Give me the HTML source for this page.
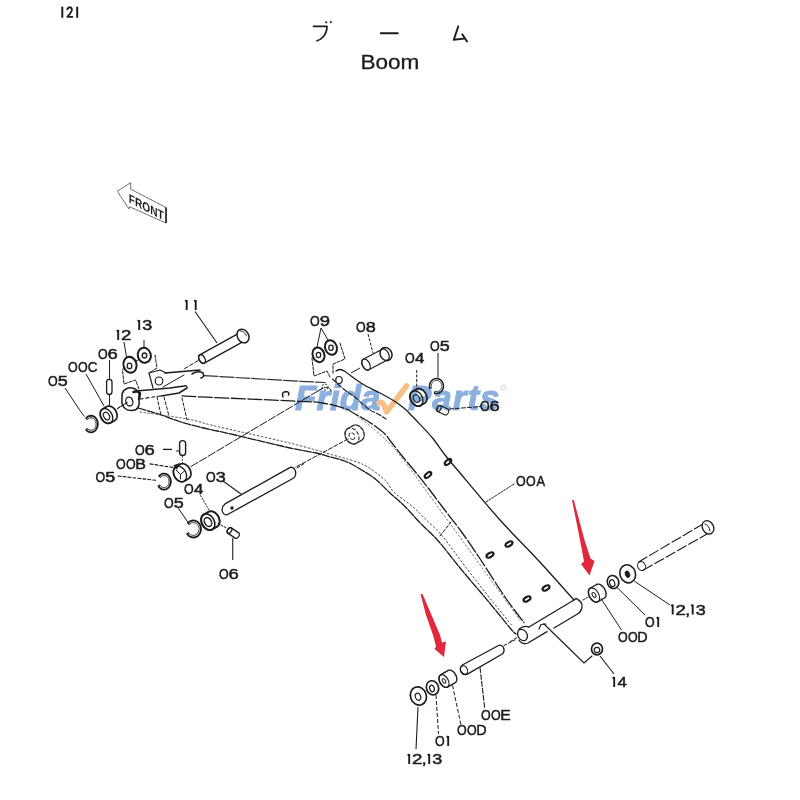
<!DOCTYPE html>
<html><head><meta charset="utf-8"><style>
html,body{margin:0;padding:0;background:#fff;}
svg{display:block;}
text{font-family:"Liberation Sans",sans-serif;fill:#1c1c1c;} .lb{stroke:#1c1c1c;stroke-width:0.5;} svg{will-change:transform;filter:blur(0.3px);}
</style></head><body>
<svg width="800" height="800" viewBox="0 0 800 800">
<rect width="800" height="800" fill="#fff"/>
<g>
<text x="295" y="410" font-size="35" font-weight="bold" font-style="italic" style="fill:#8cb0de;stroke:#8cb0de;stroke-width:1.0">Frida</text>
<path d="M379,403 Q382,401 384,405 L386.5,412 L406.5,386" fill="none" stroke="#f4c088" stroke-width="5.5" stroke-linecap="round" stroke-linejoin="round"/>
<text x="408" y="410" font-size="35" font-weight="bold" font-style="italic" letter-spacing="1" style="fill:#8cb0de;stroke:#8cb0de;stroke-width:1.0">Parts</text>
<circle cx="503.5" cy="387.5" r="2.5" fill="none" stroke="#aac0e0" stroke-width="0.7"/>
</g>
<path d="M62.3,7.5 L62.3,17" fill="none" stroke="#1c1c1c" stroke-width="2.0" stroke-linecap="round" stroke-linejoin="round"/>
<path d="M67.2,9.3 Q68.5,7 70.3,7.3 Q72.3,7.8 71.8,10.5 Q71,13 67.3,16.8 L72.4,16.8" fill="none" stroke="#1c1c1c" stroke-width="1.8" stroke-linecap="round" stroke-linejoin="round"/>
<path d="M77.2,7.5 L77.2,17" fill="none" stroke="#1c1c1c" stroke-width="2.0" stroke-linecap="round" stroke-linejoin="round"/>
<path d="M313.5,26.3 L327,26.3 Q327,33 322.5,37.5 Q320,40 317,40.8" fill="none" stroke="#1c1c1c" stroke-width="1.7" stroke-linecap="round" stroke-linejoin="round"/>
<ellipse cx="326.3" cy="22.3" rx="0.9" ry="0.9" transform="rotate(0 326.3 22.3)" fill="#1c1c1c" stroke="#1c1c1c" stroke-width="0.3"/>
<ellipse cx="330.8" cy="22" rx="0.9" ry="0.9" transform="rotate(0 330.8 22)" fill="#1c1c1c" stroke="#1c1c1c" stroke-width="0.3"/>
<path d="M380.8,33.3 L397.8,33.3" fill="none" stroke="#1c1c1c" stroke-width="2.0" stroke-linecap="round" stroke-linejoin="round"/>
<path d="M458.3,26.3 L453.8,39.8 L464,38.6" fill="none" stroke="#1c1c1c" stroke-width="1.9" stroke-linecap="round" stroke-linejoin="round"/>
<path d="M462.3,34.3 L467,41.5" fill="none" stroke="#1c1c1c" stroke-width="1.9" stroke-linecap="round" stroke-linejoin="round"/>
<text x="360.5" y="68.8" font-size="20.5" stroke="#1c1c1c" stroke-width="0.3" transform="translate(360.5 0) scale(1.1 1) translate(-360.5 0)">Boom</text>
<polygon points="117.3,191.3 130.7,182.7 130.7,189.2 166,207.5 166,223 129.5,206.7 129.1,209.1" fill="none" stroke="#666" stroke-width="1.0" stroke-linejoin="round" stroke-linecap="round" stroke-dasharray="3 1"/>
<line x1="166" y1="207.5" x2="166" y2="223" stroke="#333" stroke-width="1.8"/>
<text x="0" y="0" font-size="12.5" font-weight="bold" transform="translate(128.8 202.3) skewY(27.5) scale(0.81 1)">FRONT</text>
<path class="l1" d="M186.70,300.00 L186.70,310.00 M186.70,300.20 L185.20,301.40" stroke="#1c1c1c" stroke-width="1.9" fill="none"/>
<path class="l1" d="M195.70,300.00 L195.70,310.00 M195.70,300.20 L194.20,301.40" stroke="#1c1c1c" stroke-width="1.9" fill="none"/>
<path class="l1" d="M139.20,320.00 L139.20,330.00 M139.20,320.20 L137.70,321.40" stroke="#1c1c1c" stroke-width="1.9" fill="none"/>
<text x="0" y="0" font-size="14.5" class="lb" transform="translate(142.32 330) scale(1.236 1)">3</text>
<path class="l1" d="M118.20,330.00 L118.20,340.00 M118.20,330.20 L116.70,331.40" stroke="#1c1c1c" stroke-width="1.9" fill="none"/>
<text x="0" y="0" font-size="14.5" class="lb" transform="translate(121.07 340) scale(1.286 1)">2</text>
<text x="0" y="0" font-size="14.5" class="lb" transform="translate(97.91 358.5) scale(0.858 1)">O</text>
<text x="0" y="0" font-size="14.5" class="lb" transform="translate(107.57 358.5) scale(1.270 1)">6</text>
<text x="0" y="0" font-size="14.5" class="lb" transform="translate(67.91 372) scale(0.858 1)">O</text>
<text x="0" y="0" font-size="14.5" class="lb" transform="translate(77.91 372) scale(0.858 1)">O</text>
<text x="0" y="0" font-size="14.5" class="lb" transform="translate(87.82 372) scale(0.926 1)">C</text>
<text x="0" y="0" font-size="14.5" class="lb" transform="translate(47.91 386) scale(0.858 1)">O</text>
<text x="0" y="0" font-size="14.5" class="lb" transform="translate(57.78 386) scale(1.236 1)">5</text>
<text x="0" y="0" font-size="14.5" class="lb" transform="translate(309.91 326) scale(0.858 1)">O</text>
<text x="0" y="0" font-size="14.5" class="lb" transform="translate(319.63 326) scale(1.270 1)">9</text>
<text x="0" y="0" font-size="14.5" class="lb" transform="translate(355.91 332) scale(0.858 1)">O</text>
<text x="0" y="0" font-size="14.5" class="lb" transform="translate(365.71 332) scale(1.249 1)">8</text>
<text x="0" y="0" font-size="14.5" class="lb" transform="translate(404.91 362.5) scale(0.858 1)">O</text>
<text x="0" y="0" font-size="14.5" class="lb" transform="translate(415.11 362.5) scale(1.162 1)">4</text>
<text x="0" y="0" font-size="14.5" class="lb" transform="translate(429.91 350.5) scale(0.858 1)">O</text>
<text x="0" y="0" font-size="14.5" class="lb" transform="translate(439.78 350.5) scale(1.236 1)">5</text>
<text x="0" y="0" font-size="14.5" class="lb" transform="translate(479.91 410.5) scale(0.858 1)">O</text>
<text x="0" y="0" font-size="14.5" class="lb" transform="translate(489.57 410.5) scale(1.270 1)">6</text>
<text x="0" y="0" font-size="14.5" class="lb" transform="translate(134.91 455) scale(0.858 1)">O</text>
<text x="0" y="0" font-size="14.5" class="lb" transform="translate(144.57 455) scale(1.270 1)">6</text>
<text x="0" y="0" font-size="14.5" class="lb" transform="translate(115.91 469) scale(0.858 1)">O</text>
<text x="0" y="0" font-size="14.5" class="lb" transform="translate(125.91 469) scale(0.858 1)">O</text>
<text x="0" y="0" font-size="14.5" class="lb" transform="translate(135.19 469) scale(1.102 1)">B</text>
<text x="0" y="0" font-size="14.5" class="lb" transform="translate(95.41 482) scale(0.858 1)">O</text>
<text x="0" y="0" font-size="14.5" class="lb" transform="translate(105.28 482) scale(1.236 1)">5</text>
<text x="0" y="0" font-size="14.5" class="lb" transform="translate(205.91 482) scale(0.858 1)">O</text>
<text x="0" y="0" font-size="14.5" class="lb" transform="translate(215.82 482) scale(1.236 1)">3</text>
<text x="0" y="0" font-size="14.5" class="lb" transform="translate(183.91 494) scale(0.858 1)">O</text>
<text x="0" y="0" font-size="14.5" class="lb" transform="translate(194.11 494) scale(1.162 1)">4</text>
<text x="0" y="0" font-size="14.5" class="lb" transform="translate(163.91 508) scale(0.858 1)">O</text>
<text x="0" y="0" font-size="14.5" class="lb" transform="translate(173.78 508) scale(1.236 1)">5</text>
<text x="0" y="0" font-size="14.5" class="lb" transform="translate(218.91 579) scale(0.858 1)">O</text>
<text x="0" y="0" font-size="14.5" class="lb" transform="translate(228.57 579) scale(1.270 1)">6</text>
<text x="0" y="0" font-size="14.5" class="lb" transform="translate(515.91 486) scale(0.858 1)">O</text>
<text x="0" y="0" font-size="14.5" class="lb" transform="translate(525.91 486) scale(0.858 1)">O</text>
<text x="0" y="0" font-size="14.5" class="lb" transform="translate(536.47 486) scale(0.884 1)">A</text>
<path class="l1" d="M672.70,604.50 L672.70,614.50 M672.70,604.70 L671.20,605.90" stroke="#1c1c1c" stroke-width="1.9" fill="none"/>
<text x="0" y="0" font-size="14.5" class="lb" transform="translate(675.57 614.5) scale(1.286 1)">2</text>
<text x="0" y="0" font-size="14.5" class="lb" transform="translate(685.23 614.5) scale(1.200 1)">,</text>
<path class="l1" d="M692.70,604.50 L692.70,614.50 M692.70,604.70 L691.20,605.90" stroke="#1c1c1c" stroke-width="1.9" fill="none"/>
<text x="0" y="0" font-size="14.5" class="lb" transform="translate(695.82 614.5) scale(1.236 1)">3</text>
<text x="0" y="0" font-size="14.5" class="lb" transform="translate(644.91 627) scale(0.858 1)">O</text>
<path class="l1" d="M658.20,617.00 L658.20,627.00 M658.20,617.20 L656.70,618.40" stroke="#1c1c1c" stroke-width="1.9" fill="none"/>
<text x="0" y="0" font-size="14.5" class="lb" transform="translate(617.91 642) scale(0.858 1)">O</text>
<text x="0" y="0" font-size="14.5" class="lb" transform="translate(627.91 642) scale(0.858 1)">O</text>
<text x="0" y="0" font-size="14.5" class="lb" transform="translate(637.32 642) scale(0.990 1)">D</text>
<path class="l1" d="M614.20,677.00 L614.20,687.00 M614.20,677.20 L612.70,678.40" stroke="#1c1c1c" stroke-width="1.9" fill="none"/>
<text x="0" y="0" font-size="14.5" class="lb" transform="translate(617.61 687) scale(1.162 1)">4</text>
<text x="0" y="0" font-size="14.5" class="lb" transform="translate(480.91 720) scale(0.858 1)">O</text>
<text x="0" y="0" font-size="14.5" class="lb" transform="translate(490.91 720) scale(0.858 1)">O</text>
<text x="0" y="0" font-size="14.5" class="lb" transform="translate(500.21 720) scale(1.081 1)">E</text>
<text x="0" y="0" font-size="14.5" class="lb" transform="translate(456.91 735) scale(0.858 1)">O</text>
<text x="0" y="0" font-size="14.5" class="lb" transform="translate(466.91 735) scale(0.858 1)">O</text>
<text x="0" y="0" font-size="14.5" class="lb" transform="translate(476.32 735) scale(0.990 1)">D</text>
<text x="0" y="0" font-size="14.5" class="lb" transform="translate(434.91 746) scale(0.858 1)">O</text>
<path class="l1" d="M448.20,736.00 L448.20,746.00 M448.20,736.20 L446.70,737.40" stroke="#1c1c1c" stroke-width="1.9" fill="none"/>
<path class="l1" d="M409.20,754.00 L409.20,764.00 M409.20,754.20 L407.70,755.40" stroke="#1c1c1c" stroke-width="1.9" fill="none"/>
<text x="0" y="0" font-size="14.5" class="lb" transform="translate(412.07 764) scale(1.286 1)">2</text>
<text x="0" y="0" font-size="14.5" class="lb" transform="translate(421.73 764) scale(1.200 1)">,</text>
<path class="l1" d="M429.20,754.00 L429.20,764.00 M429.20,754.20 L427.70,755.40" stroke="#1c1c1c" stroke-width="1.9" fill="none"/>
<text x="0" y="0" font-size="14.5" class="lb" transform="translate(432.32 764) scale(1.236 1)">3</text>
<path d="M336,371 C336.67,370.75 338.5,369.42 340,369.5 C341.5,369.58 342.5,369.92 345,371.5 C347.5,373.08 351.67,376.67 355,379 C358.33,381.33 360.83,383.17 365,385.5 C369.17,387.83 375,390.33 380,393 C385,395.67 390.83,398.83 395,401.5 C399.17,404.17 402.08,406.5 405,409 C407.92,411.5 410,413.93 412.5,416.5 C415,419.07 416.67,420.82 420,424.4 C423.33,427.98 428.33,432.9 432.5,438 C436.67,443.1 440.83,449.67 445,455 C449.17,460.33 448.33,459.17 457.5,470 C466.67,480.83 486.58,505 500,520 C513.42,535 525.67,546.67 538,560 C550.33,573.33 568,593.33 574,600" fill="none" stroke="#1c1c1c" stroke-width="1.3" stroke-linecap="round" stroke-linejoin="round"/>
<path d="M182,395.8 C185,395.98 180.33,395.98 200,396.9 C219.67,397.82 279.58,400.28 300,401.3 C320.42,402.32 315,401.8 322.5,403 C330,404.2 339.58,406.67 345,408.5 C350.42,410.33 351.67,412.17 355,414 C358.33,415.83 361.67,417.5 365,419.5 C368.33,421.5 371.67,423.58 375,426 C378.33,428.42 382.5,431.58 385,434 C387.5,436.42 387.08,436.75 390,440.5 C392.92,444.25 398.33,451.33 402.5,456.5 C406.67,461.67 410.62,466.12 415,471.5 C419.38,476.88 423.79,482.33 428.75,488.75 C433.71,495.17 439.21,502.71 444.75,510 C450.29,517.29 456.12,524.38 462,532.5 C467.88,540.62 472.67,547.75 480,558.75 C487.33,569.75 498.67,587.88 506,598.5 C513.33,609.12 521,618.5 524,622.5" fill="none" stroke="#1c1c1c" stroke-width="1.3" stroke-linecap="round" stroke-linejoin="round" stroke-dasharray="14 2.5"/>
<path d="M352,412 C355.83,415 368.33,424.33 375,430 C381.67,435.67 387,440.67 392,446 C397,451.33 398.67,453.67 405,462 C411.33,470.33 410.83,469.67 430,496 C449.17,522.33 505,599.33 520,620" fill="none" stroke="#666" stroke-width="0.9" stroke-linecap="round" stroke-linejoin="round" stroke-dasharray="1.5 2.5"/>
<path d="M332.5,379 C333.75,380.17 337.5,383.83 340,386 C342.5,388.17 345,390.17 347.5,392 C350,393.83 352.5,395 355,397 C357.5,399 360,401.83 362.5,404 C365,406.17 367.42,408.33 370,410 C372.58,411.67 375.33,412.5 378,414 C380.67,415.5 384.67,418.17 386,419" fill="none" stroke="#1c1c1c" stroke-width="1.1" stroke-linecap="round" stroke-linejoin="round" stroke-dasharray="5 2"/>
<path d="M138,408 C141.67,409.08 153,412.21 160,414.5 C167,416.79 172.92,419.54 180,421.75 C187.08,423.96 196.25,426.21 202.5,427.75 C208.75,429.29 211.88,429.75 217.5,431 C223.12,432.25 224.17,432.42 236.25,435.25 C248.33,438.08 276.71,445.04 290,448 C303.29,450.96 309.5,451.57 316,453 C322.5,454.43 324,455.18 329,456.6 C334,458.02 340.83,459.43 346,461.5 C351.17,463.57 355.17,466.12 360,469 C364.83,471.88 370,474.75 375,478.75 C380,482.75 385,488.38 390,493 C395,497.62 400,501.54 405,506.5 C410,511.46 414.38,516.92 420,522.75 C425.62,528.58 432,533.88 438.75,541.5 C445.5,549.12 451.92,558.12 460.5,568.5 C469.08,578.88 481.92,593.75 490.25,603.75 C498.58,613.75 506.21,623.46 510.5,628.5 C514.79,633.54 515.08,633.08 516,634" fill="none" stroke="#1c1c1c" stroke-width="1.3" stroke-linecap="round" stroke-linejoin="round" stroke-dasharray="8 1.5"/>
<path d="M140,412 C147.67,413.12 174.33,416.62 186,418.75 C197.67,420.88 202.25,422.88 210,424.75 C217.75,426.62 218.92,426.88 232.5,430 C246.08,433.12 274.92,439.38 291.5,443.5 C308.08,447.62 320.08,451.25 332,454.75 C343.92,458.25 354.21,460.29 363,464.5 C371.79,468.71 379.62,475.42 384.75,480 C389.88,484.58 389.12,487.58 393.75,492 C398.38,496.42 407.5,502.25 412.5,506.5 C417.5,510.75 418.75,512.54 423.75,517.5 C428.75,522.46 435.62,528.12 442.5,536.25 C449.38,544.38 456.67,555.38 465,566.25 C473.33,577.12 484.67,591.62 492.5,601.5 C500.33,611.38 508.75,621.5 512,625.5" fill="none" stroke="#444" stroke-width="1.0" stroke-linecap="round" stroke-linejoin="round" stroke-dasharray="1.5 2.5"/>
<path d="M165,373 L200,370" fill="none" stroke="#1c1c1c" stroke-width="1.6" stroke-linecap="round" stroke-linejoin="round"/>
<path d="M203.8,375.6 L300,381.3 L325,382.5" fill="none" stroke="#333" stroke-width="1.2" stroke-linecap="round" stroke-linejoin="round" stroke-dasharray="14 2"/>
<path d="M140,399 L160,396" fill="none" stroke="#1c1c1c" stroke-width="1.2" stroke-linecap="round" stroke-linejoin="round" stroke-dasharray="3 3"/>
<path d="M126,389 Q131,386.5 136,389.5 Q141,393 139,400 Q140,407 136,409.5 Q130,412 125,408.5 Q121,405 122,398 Q121.5,391 126,389 Z" fill="#fff" stroke="#1c1c1c" stroke-width="1.5" stroke-linecap="round" stroke-linejoin="round"/>
<ellipse cx="129.3" cy="401.5" rx="3.5" ry="4.5" transform="rotate(-15 129.3 401.5)" fill="none" stroke="#1c1c1c" stroke-width="1.3"/>
<path d="M133.5,392 Q138,390.5 140,393 L139,399" fill="none" stroke="#1c1c1c" stroke-width="2.4" stroke-linecap="round" stroke-linejoin="round"/>
<path d="M117,409 L127,402.5" fill="none" stroke="#1c1c1c" stroke-width="1.0" stroke-linecap="round" stroke-linejoin="round" stroke-dasharray="3 1.5"/>
<path d="M136,391 L153,389.5 L170,388 L184,386 Q187,385 187,388 L179,393 L161,396" fill="none" stroke="#1c1c1c" stroke-width="1.5" stroke-linecap="round" stroke-linejoin="round"/>
<path d="M157,397 L161,415" fill="none" stroke="#1c1c1c" stroke-width="1.0" stroke-linecap="round" stroke-linejoin="round" stroke-dasharray="3 2"/>
<path d="M164,397 L169,416" fill="none" stroke="#1c1c1c" stroke-width="1.0" stroke-linecap="round" stroke-linejoin="round" stroke-dasharray="3 2"/>
<path d="M182,398 L187,420" fill="none" stroke="#1c1c1c" stroke-width="1.0" stroke-linecap="round" stroke-linejoin="round" stroke-dasharray="3 2"/>
<path d="M149,373 L153,388" fill="none" stroke="#1c1c1c" stroke-width="1.2" stroke-linecap="round" stroke-linejoin="round"/>
<path d="M149,373 L160,370 L166,373" fill="none" stroke="#1c1c1c" stroke-width="1.2" stroke-linecap="round" stroke-linejoin="round"/>
<ellipse cx="159" cy="381" rx="3.8" ry="4" transform="rotate(0 159 381)" fill="none" stroke="#1c1c1c" stroke-width="1.2"/>
<path d="M192,374 Q198,370 203,373 Q205,377 201,378" fill="none" stroke="#1c1c1c" stroke-width="1.6" stroke-linecap="round" stroke-linejoin="round"/>
<polyline points="124,367 122.5,370 124,384 135.5,380 139,389" fill="none" stroke="#1c1c1c" stroke-width="1.0" stroke-linejoin="round" stroke-linecap="round" stroke-dasharray="3 1.5"/>
<polyline points="155,355 157,368 149.5,372.5" fill="none" stroke="#1c1c1c" stroke-width="1.0" stroke-linejoin="round" stroke-linecap="round" stroke-dasharray="3 1.5"/>
<polyline points="312,358 314,376 327,371 330,377" fill="none" stroke="#1c1c1c" stroke-width="1.0" stroke-linejoin="round" stroke-linecap="round" stroke-dasharray="3 1.5"/>
<polyline points="340,343 345,359 333,364 333,374" fill="none" stroke="#1c1c1c" stroke-width="1.0" stroke-linejoin="round" stroke-linecap="round" stroke-dasharray="3 1.5"/>
<ellipse cx="339" cy="380" rx="3.2" ry="3.5" transform="rotate(0 339 380)" fill="none" stroke="#1c1c1c" stroke-width="1.2"/>
<ellipse cx="325" cy="387" rx="3" ry="3" transform="rotate(0 325 387)" fill="none" stroke="#1c1c1c" stroke-width="1.0" stroke-dasharray="2 1.5"/>
<path d="M318,391 L323,388 Q330,386 331,391" fill="none" stroke="#1c1c1c" stroke-width="1.0" stroke-linecap="round" stroke-linejoin="round" stroke-dasharray="2 1.5"/>
<polygon points="361.45,440.36 362.26,439.77 362.94,439.02 363.49,438.11 363.88,437.08 364.11,435.95 364.16,434.75 364.04,433.5 363.76,432.24 363.31,431 362.72,429.81 361.98,428.7 361.13,427.69 360.19,426.82 359.16,426.09 358.09,425.54 357,425.17 355.92,424.99 354.86,425.01 353.86,425.23 352.95,425.64 347.75,428.64 346.94,429.23 346.25,429.98 345.71,430.89 345.32,431.92 345.09,433.05 345.04,434.25 345.15,435.5 345.44,436.76 345.88,438 346.48,439.19 347.21,440.3 348.06,441.31 349.01,442.18 350.03,442.91 351.1,443.46 352.19,443.83 353.28,444.01 354.34,443.99 355.33,443.77 356.25,443.36" fill="#fff" stroke="#333" stroke-width="1.4" stroke-linejoin="round" stroke-linecap="round" stroke-dasharray="4 1.5"/>
<ellipse cx="352" cy="436" rx="8.5" ry="6.38" transform="rotate(60 352 436)" fill="none" stroke="#333" stroke-width="1.1199999999999999" stroke-dasharray="4 1.5"/>
<ellipse cx="352" cy="436" rx="3.57" ry="2.68" transform="rotate(60 352 436)" fill="none" stroke="#333" stroke-width="0.9799999999999999" stroke-dasharray="4 1.5"/>
<path d="M348,439 L295,467.5" fill="none" stroke="#1c1c1c" stroke-width="1.0" stroke-linecap="round" stroke-linejoin="round" stroke-dasharray="4 2"/>
<path d="M191,466.5 L323,388" fill="none" stroke="#1c1c1c" stroke-width="1.0" stroke-linecap="round" stroke-linejoin="round" stroke-dasharray="8 2"/>
<path d="M440,536 L451,522" fill="none" stroke="#1c1c1c" stroke-width="1.0" stroke-linecap="round" stroke-linejoin="round" stroke-dasharray="3 2"/>
<ellipse cx="448" cy="462" rx="3.8" ry="2" transform="rotate(-40 448 462)" fill="none" stroke="#1c1c1c" stroke-width="2.2"/>
<ellipse cx="428" cy="475" rx="3.8" ry="2" transform="rotate(-40 428 475)" fill="none" stroke="#1c1c1c" stroke-width="2.2"/>
<ellipse cx="509" cy="544" rx="3.8" ry="2" transform="rotate(-30 509 544)" fill="none" stroke="#1c1c1c" stroke-width="2.2"/>
<ellipse cx="490" cy="555" rx="3.8" ry="2" transform="rotate(-30 490 555)" fill="none" stroke="#1c1c1c" stroke-width="2.2"/>
<ellipse cx="546" cy="588" rx="3.8" ry="2" transform="rotate(-30 546 588)" fill="none" stroke="#1c1c1c" stroke-width="2.2"/>
<ellipse cx="527" cy="599" rx="3.8" ry="2" transform="rotate(-30 527 599)" fill="none" stroke="#1c1c1c" stroke-width="2.2"/>
<path d="M529,627 L574,600 L576,598.4" fill="none" stroke="#1c1c1c" stroke-width="1.3" stroke-linecap="round" stroke-linejoin="round"/>
<path d="M576,598.4 Q583,602 582,607 Q581,612 577.5,614 L554,628" fill="none" stroke="#1c1c1c" stroke-width="1.3" stroke-linecap="round" stroke-linejoin="round"/>
<path d="M547,631.6 L528,643 Q522,645 519,640" fill="none" stroke="#1c1c1c" stroke-width="1.3" stroke-linecap="round" stroke-linejoin="round"/>
<ellipse cx="522.5" cy="635" rx="4.5" ry="6" transform="rotate(-30 522.5 635)" fill="none" stroke="#1c1c1c" stroke-width="1.3"/>
<path d="M519,629 Q524,625 529,627" fill="none" stroke="#1c1c1c" stroke-width="1.3" stroke-linecap="round" stroke-linejoin="round"/>
<path d="M539,629 L541,624.5 L546,624" fill="none" stroke="#1c1c1c" stroke-width="1.2" stroke-linecap="round" stroke-linejoin="round"/>
<path d="M543.75,623.75 L584,663 L592,656" fill="none" stroke="#1c1c1c" stroke-width="1.1" stroke-linecap="round" stroke-linejoin="round"/>
<path d="M510,641.75 L518,637" fill="none" stroke="#1c1c1c" stroke-width="1.0" stroke-linecap="round" stroke-linejoin="round" stroke-dasharray="3 2"/>
<path d="M486,502 L514,484" fill="none" stroke="#1c1c1c" stroke-width="1.0" stroke-linecap="round" stroke-linejoin="round" stroke-dasharray="2 1.5"/>
<polygon points="242.27,342.11 242.71,341.77 243.04,341.28 243.26,340.66 243.35,339.94 243.32,339.15 243.15,338.31 242.86,337.46 242.47,336.64 241.98,335.86 241.41,335.17 240.79,334.58 240.14,334.13 239.48,333.82 238.84,333.68 238.25,333.7 237.73,333.89 199.73,354.89 199.29,355.23 198.96,355.72 198.74,356.34 198.65,357.06 198.68,357.85 198.85,358.69 199.14,359.54 199.53,360.36 200.02,361.14 200.59,361.83 201.21,362.42 201.86,362.87 202.52,363.18 203.16,363.32 203.75,363.3 204.27,363.11" fill="#fff" stroke="#1c1c1c" stroke-width="1.3" stroke-linejoin="round" stroke-linecap="round"/>
<ellipse cx="202" cy="359" rx="4.7" ry="2.82" transform="rotate(61.07 202 359)" fill="none" stroke="#1c1c1c" stroke-width="1.3"/>
<ellipse cx="243" cy="336" rx="5.6" ry="7.2" transform="rotate(-30 243 336)" fill="#fff" stroke="#1c1c1c" stroke-width="1.5"/>
<path d="M240.5,331 Q245,331 246.5,336" fill="none" stroke="#1c1c1c" stroke-width="0.9" stroke-linecap="round" stroke-linejoin="round"/>
<line x1="195" y1="311.5" x2="217" y2="343" stroke="#1c1c1c" stroke-width="1.1"/>
<path d="M198.3,360.5 L184,369" fill="none" stroke="#1c1c1c" stroke-width="1.0" stroke-linecap="round" stroke-linejoin="round" stroke-dasharray="4 2"/>
<path d="M184,375 L163,387" fill="none" stroke="#1c1c1c" stroke-width="1.0" stroke-linecap="round" stroke-linejoin="round"/>
<path d="M283,397 Q281,392 286,391.5 Q290,392 288.5,395" fill="none" stroke="#1c1c1c" stroke-width="1.5" stroke-linecap="round" stroke-linejoin="round"/>
<path d="M289.3,467.9 L225,503.9 Q221,507 222.5,512 Q225,516.5 228.5,514 L293.75,478 Q297,475 295,470 Q292.5,466 289.3,467.9 Z" fill="#fff" stroke="#1c1c1c" stroke-width="1.3" stroke-linecap="round" stroke-linejoin="round"/>
<ellipse cx="232" cy="508" rx="1" ry="1" transform="rotate(0 232 508)" fill="none" stroke="#1c1c1c" stroke-width="1.4"/>
<line x1="223" y1="481" x2="241" y2="494" stroke="#1c1c1c" stroke-width="1.1"/>
<path d="M297,468 L305,463" fill="none" stroke="#1c1c1c" stroke-width="1.0" stroke-linecap="round" stroke-linejoin="round" stroke-dasharray="3 2"/>
<polygon points="387.79,359.81 388.36,359.38 388.8,358.76 389.09,357.98 389.23,357.07 389.2,356.06 389.01,354.98 388.67,353.89 388.19,352.82 387.58,351.82 386.87,350.92 386.1,350.16 385.28,349.56 384.45,349.15 383.64,348.95 382.88,348.97 382.21,349.19 363.21,359.19 362.64,359.62 362.2,360.24 361.91,361.02 361.77,361.93 361.8,362.94 361.99,364.02 362.33,365.11 362.81,366.18 363.42,367.18 364.13,368.08 364.9,368.84 365.72,369.44 366.55,369.85 367.36,370.05 368.12,370.03 368.79,369.81" fill="#fff" stroke="#1c1c1c" stroke-width="1.2" stroke-linejoin="round" stroke-linecap="round"/>
<ellipse cx="366" cy="364.5" rx="6" ry="3.6" transform="rotate(62.24 366 364.5)" fill="none" stroke="#1c1c1c" stroke-width="1.2"/>
<ellipse cx="386" cy="354" rx="5.8" ry="6.8" transform="rotate(-28 386 354)" fill="none" stroke="#1c1c1c" stroke-width="1.5"/>
<line x1="368" y1="334" x2="373" y2="353" stroke="#1c1c1c" stroke-width="1.0" stroke-dasharray="3 1.5"/>
<line x1="360" y1="368" x2="351" y2="373" stroke="#1c1c1c" stroke-width="1.0"/>
<path d="M703,524 L639,561.7" fill="none" stroke="#1c1c1c" stroke-width="1.1" stroke-linecap="round" stroke-linejoin="round" stroke-dasharray="10 3"/>
<path d="M708.75,533 L643.5,570" fill="none" stroke="#1c1c1c" stroke-width="1.1" stroke-linecap="round" stroke-linejoin="round" stroke-dasharray="10 3"/>
<ellipse cx="641.5" cy="566" rx="3.8" ry="4.6" transform="rotate(-30 641.5 566)" fill="none" stroke="#1c1c1c" stroke-width="1.0"/>
<ellipse cx="708" cy="527.3" rx="5.5" ry="7" transform="rotate(-30 708 527.3)" fill="#fff" stroke="#1c1c1c" stroke-width="1.3"/>
<path d="M705,524 Q709,525 710,531" fill="none" stroke="#1c1c1c" stroke-width="1.0" stroke-linecap="round" stroke-linejoin="round"/>
<path d="M498.5,645.5 L462.75,664.75 Q459,668 461,672 Q463.5,675.5 467,674.4 L502.7,653.75 Q505,651 503.5,647.5 Q501.5,644 498.5,645.5 Z" fill="#fff" stroke="#1c1c1c" stroke-width="1.3" stroke-linecap="round" stroke-linejoin="round"/>
<ellipse cx="464" cy="670" rx="3.3" ry="4.5" transform="rotate(-30 464 670)" fill="none" stroke="#1c1c1c" stroke-width="1.1"/>
<path d="M504,645.5 L515,640" fill="none" stroke="#1c1c1c" stroke-width="1.0" stroke-linecap="round" stroke-linejoin="round" stroke-dasharray="3 2"/>
<path d="M480,667.5 L484.75,708.75" fill="none" stroke="#1c1c1c" stroke-width="1.1" stroke-linecap="round" stroke-linejoin="round" stroke-dasharray="5 2"/>
<polyline points="86.19,418.13 87.22,417.1 88.4,416.33 89.67,415.86 91,415.7 92.33,415.86 93.6,416.33 94.78,417.1 95.81,418.13 96.65,419.39 97.28,420.82 97.67,422.38 97.8,424 97.67,425.62 97.28,427.18 96.65,428.61 95.81,429.87 94.78,430.9 93.6,431.67 92.33,432.14 91,432.3 89.67,432.14 88.4,431.67 87.22,430.9 86.19,429.87" fill="none" stroke="#1c1c1c" stroke-width="1.8" stroke-linejoin="round" stroke-linecap="round"/>
<polyline points="87.39,419.6 88.17,418.82 89.05,418.25 90.01,417.89 91,417.77 91.99,417.89 92.95,418.25 93.83,418.82 94.61,419.6 95.24,420.54 95.71,421.62 96,422.79 96.1,424 96,425.21 95.71,426.38 95.24,427.46 94.61,428.4 93.83,429.18 92.95,429.75 91.99,430.11 91,430.23 90.01,430.11 89.05,429.75 88.17,429.18 87.39,428.4" fill="none" stroke="#1c1c1c" stroke-width="0.9" stroke-linejoin="round" stroke-linecap="round"/>
<line x1="86.19" y1="418.13" x2="87.39" y2="419.6" stroke="#1c1c1c" stroke-width="1.26"/>
<line x1="86.19" y1="429.87" x2="87.39" y2="428.4" stroke="#1c1c1c" stroke-width="1.26"/>
<line x1="80" y1="410.6" x2="84.5" y2="416.5" stroke="#1c1c1c" stroke-width="1.0"/>
<line x1="65" y1="388" x2="80" y2="410.6" stroke="#1c1c1c" stroke-width="1.0"/>
<polygon points="114.83,420.43 115.54,419.9 116.13,419.22 116.6,418.4 116.92,417.46 117.09,416.42 117.1,415.31 116.97,414.15 116.68,412.98 116.25,411.82 115.68,410.7 114.99,409.65 114.21,408.7 113.34,407.86 112.4,407.16 111.43,406.62 110.44,406.25 109.47,406.06 108.52,406.05 107.64,406.22 106.83,406.57 102.5,409.07 101.79,409.6 101.2,410.28 100.73,411.1 100.41,412.04 100.24,413.08 100.23,414.19 100.36,415.35 100.65,416.52 101.08,417.68 101.65,418.8 102.34,419.85 103.12,420.8 103.99,421.64 104.93,422.34 105.9,422.88 106.89,423.25 107.86,423.44 108.81,423.45 109.69,423.28 110.5,422.93" fill="#fff" stroke="#1c1c1c" stroke-width="1.7" stroke-linejoin="round" stroke-linecap="round"/>
<ellipse cx="106.5" cy="416" rx="8" ry="5.6" transform="rotate(60 106.5 416)" fill="none" stroke="#1c1c1c" stroke-width="1.36"/>
<ellipse cx="106.5" cy="416" rx="4" ry="2.8" transform="rotate(60 106.5 416)" fill="none" stroke="#1c1c1c" stroke-width="1.19"/>
<line x1="86" y1="374" x2="104" y2="406" stroke="#1c1c1c" stroke-width="1.0"/>
<line x1="109.5" y1="360" x2="109.5" y2="379" stroke="#1c1c1c" stroke-width="1.0"/>
<rect x="106.6" y="379.3" width="5.4" height="15.2" rx="2.7" fill="#fff" stroke="#1c1c1c" stroke-width="1.3"/>
<line x1="109.5" y1="394.5" x2="109.5" y2="405" stroke="#1c1c1c" stroke-width="1.0"/>
<path d="M118,408 L127.5,402.5" fill="none" stroke="#1c1c1c" stroke-width="1.0" stroke-linecap="round" stroke-linejoin="round" stroke-dasharray="2.5 1.5"/>
<line x1="124" y1="342" x2="126.5" y2="357" stroke="#1c1c1c" stroke-width="1.0"/>
<ellipse cx="130" cy="364.8" rx="6.5" ry="8" transform="rotate(-15 130 364.8)" fill="#fff" stroke="#1c1c1c" stroke-width="2.0"/>
<ellipse cx="129.5" cy="366" rx="2.3" ry="2.8" transform="rotate(0 129.5 366)" fill="none" stroke="#1c1c1c" stroke-width="1.3"/>
<line x1="144" y1="340" x2="144" y2="347.5" stroke="#1c1c1c" stroke-width="1.0"/>
<ellipse cx="144.3" cy="355.3" rx="6.5" ry="7.5" transform="rotate(-15 144.3 355.3)" fill="#fff" stroke="#1c1c1c" stroke-width="2.0"/>
<ellipse cx="144.5" cy="355.5" rx="2.3" ry="2.5" transform="rotate(0 144.5 355.5)" fill="none" stroke="#1c1c1c" stroke-width="1.3"/>
<line x1="136" y1="361" x2="140" y2="359" stroke="#1c1c1c" stroke-width="1.0"/>
<line x1="321" y1="328" x2="317" y2="347" stroke="#1c1c1c" stroke-width="1.0"/>
<line x1="321" y1="328" x2="328" y2="340" stroke="#1c1c1c" stroke-width="1.0"/>
<ellipse cx="318.5" cy="354.8" rx="5.8" ry="7.5" transform="rotate(-20 318.5 354.8)" fill="#fff" stroke="#1c1c1c" stroke-width="2.0"/>
<ellipse cx="318.5" cy="355" rx="2.2" ry="2.6" transform="rotate(0 318.5 355)" fill="none" stroke="#1c1c1c" stroke-width="1.3"/>
<ellipse cx="331" cy="347.5" rx="5.8" ry="7.5" transform="rotate(-20 331 347.5)" fill="#fff" stroke="#1c1c1c" stroke-width="2.0"/>
<ellipse cx="331" cy="347.7" rx="2.2" ry="2.6" transform="rotate(0 331 347.7)" fill="none" stroke="#1c1c1c" stroke-width="1.3"/>
<line x1="416.7" y1="370" x2="416.7" y2="387" stroke="#1c1c1c" stroke-width="1.0" stroke-dasharray="3 1.5"/>
<polygon points="424.5,403.35 425.25,402.8 425.88,402.09 426.37,401.24 426.72,400.26 426.91,399.18 426.94,398.04 426.81,396.84 426.53,395.64 426.09,394.45 425.51,393.3 424.81,392.22 423.99,391.25 423.09,390.4 422.12,389.69 421.11,389.14 420.09,388.77 419.07,388.58 418.08,388.58 417.15,388.77 416.3,389.15 412.4,391.4 411.65,391.95 411.02,392.66 410.53,393.51 410.18,394.49 409.99,395.57 409.95,396.71 410.08,397.91 410.37,399.11 410.81,400.3 411.39,401.45 412.09,402.53 412.9,403.5 413.81,404.35 414.77,405.06 415.78,405.61 416.81,405.98 417.83,406.17 418.82,406.17 419.75,405.98 420.6,405.6" fill="none" stroke="#1c1c1c" stroke-width="1.7" stroke-linejoin="round" stroke-linecap="round"/>
<ellipse cx="416.5" cy="398.5" rx="8.2" ry="5.9" transform="rotate(60 416.5 398.5)" fill="none" stroke="#1c1c1c" stroke-width="1.36"/>
<ellipse cx="416.5" cy="398.5" rx="4.1" ry="2.95" transform="rotate(60 416.5 398.5)" fill="none" stroke="#1c1c1c" stroke-width="1.19"/>
<line x1="438" y1="353" x2="438" y2="377.6" stroke="#1c1c1c" stroke-width="1.0"/>
<polyline points="429.82,388.26 429.52,386.63 429.57,384.97 429.95,383.36 430.65,381.88 431.64,380.6 432.87,379.59 434.27,378.89 435.79,378.54 437.34,378.55 438.85,378.93 440.24,379.66 441.45,380.7 442.42,381.99 443.1,383.49 443.45,385.1 443.46,386.76 443.14,388.38 442.48,389.89 441.54,391.21 440.35,392.27 438.97,393.02 437.46,393.43 435.92,393.47 434.4,393.15" fill="none" stroke="#1c1c1c" stroke-width="1.5" stroke-linejoin="round" stroke-linecap="round"/>
<polyline points="431.49,387.69 431.27,386.47 431.3,385.23 431.59,384.02 432.11,382.91 432.86,381.95 433.78,381.19 434.83,380.67 435.97,380.4 437.13,380.42 438.26,380.7 439.3,381.24 440.21,382.02 440.94,382.99 441.45,384.11 441.71,385.33 441.72,386.57 441.48,387.79 440.99,388.92 440.28,389.9 439.38,390.7 438.35,391.26 437.22,391.57 436.06,391.61 434.92,391.36" fill="none" stroke="#1c1c1c" stroke-width="0.75" stroke-linejoin="round" stroke-linecap="round"/>
<line x1="429.82" y1="388.26" x2="431.49" y2="387.69" stroke="#1c1c1c" stroke-width="1.0499999999999998"/>
<line x1="434.4" y1="393.15" x2="434.92" y2="391.36" stroke="#1c1c1c" stroke-width="1.0499999999999998"/>
<polygon points="445.15,414.9 445.51,415 445.92,414.99 446.34,414.86 446.77,414.62 447.19,414.29 447.59,413.86 447.94,413.36 448.24,412.81 448.47,412.23 448.63,411.64 448.7,411.06 448.69,410.52 448.59,410.04 448.42,409.63 448.17,409.31 447.85,409.1 440.35,405.6 439.99,405.5 439.58,405.51 439.16,405.64 438.73,405.88 438.31,406.21 437.91,406.64 437.56,407.14 437.26,407.69 437.03,408.27 436.87,408.86 436.8,409.44 436.81,409.98 436.91,410.46 437.08,410.87 437.33,411.19 437.65,411.4" fill="none" stroke="#1c1c1c" stroke-width="1.1" stroke-linejoin="round" stroke-linecap="round"/>
<ellipse cx="439" cy="408.5" rx="3.2" ry="1.92" transform="rotate(115.02 439 408.5)" fill="none" stroke="#1c1c1c" stroke-width="1.1"/>
<path d="M449.5,409 L481,406.5" fill="none" stroke="#1c1c1c" stroke-width="1.0" stroke-linecap="round" stroke-linejoin="round" stroke-dasharray="4 2"/>
<line x1="163" y1="449.4" x2="172" y2="449.4" stroke="#1c1c1c" stroke-width="1.3"/>
<rect x="179.6" y="440.6" width="6" height="14.8" rx="3" fill="#fff" stroke="#1c1c1c" stroke-width="1.4"/>
<path d="M176.5,451 L179.5,451" fill="none" stroke="#1c1c1c" stroke-width="1.0" stroke-linecap="round" stroke-linejoin="round"/>
<line x1="182.4" y1="456" x2="182.4" y2="463" stroke="#1c1c1c" stroke-width="1.0" stroke-dasharray="1.5 1.5"/>
<path d="M150,463.9 L172.75,467.4" fill="none" stroke="#1c1c1c" stroke-width="1.1" stroke-linecap="round" stroke-linejoin="round" stroke-dasharray="3 2"/>
<polygon points="188.48,478.69 189.24,478.13 189.88,477.41 190.38,476.55 190.73,475.56 190.92,474.47 190.96,473.31 190.83,472.1 190.53,470.88 190.09,469.67 189.51,468.51 188.79,467.42 187.97,466.44 187.06,465.57 186.08,464.86 185.06,464.3 184.01,463.93 182.98,463.74 181.98,463.74 181.04,463.93 180.18,464.31 175.85,466.81 175.09,467.37 174.45,468.09 173.95,468.95 173.6,469.94 173.41,471.03 173.37,472.19 173.5,473.4 173.8,474.62 174.24,475.83 174.82,476.99 175.54,478.08 176.36,479.06 177.27,479.93 178.25,480.64 179.27,481.2 180.32,481.57 181.35,481.76 182.35,481.76 183.29,481.57 184.15,481.19" fill="#fff" stroke="#1c1c1c" stroke-width="1.7" stroke-linejoin="round" stroke-linecap="round"/>
<ellipse cx="180" cy="474" rx="8.3" ry="5.98" transform="rotate(60 180 474)" fill="none" stroke="#1c1c1c" stroke-width="1.36"/>
<path d="M176,470 L180.5,474.5 L185,470.5 M180.5,474.5 L180.5,479" fill="none" stroke="#1c1c1c" stroke-width="1.0" stroke-linecap="round" stroke-linejoin="round"/>
<path d="M174,465.5 L179.5,463.5 L177,469 Z" fill="#1c1c1c" stroke="#1c1c1c" stroke-width="0.8" stroke-linecap="round" stroke-linejoin="round"/>
<path d="M118,476 L157.5,480.5" fill="none" stroke="#1c1c1c" stroke-width="1.1" stroke-linecap="round" stroke-linejoin="round" stroke-dasharray="3 2"/>
<polyline points="159.19,475.94 160.26,474.92 161.49,474.17 162.82,473.72 164.2,473.6 165.57,473.82 166.87,474.35 168.06,475.18 169.08,476.28 169.89,477.6 170.45,479.08 170.75,480.67 170.77,482.3 170.51,483.89 169.99,485.4 169.21,486.74 168.22,487.88 167.05,488.75 165.76,489.33 164.4,489.59 163.01,489.52 161.67,489.12 160.43,488.41 159.33,487.42 158.43,486.19" fill="none" stroke="#1c1c1c" stroke-width="1.8" stroke-linejoin="round" stroke-linecap="round"/>
<polyline points="160.39,477.36 161.2,476.59 162.12,476.02 163.11,475.69 164.15,475.6 165.18,475.76 166.16,476.16 167.05,476.79 167.81,477.61 168.42,478.6 168.84,479.71 169.07,480.9 169.08,482.12 168.89,483.32 168.49,484.45 167.91,485.46 167.16,486.31 166.29,486.96 165.32,487.4 164.3,487.59 163.26,487.54 162.26,487.24 161.32,486.71 160.5,485.96 159.82,485.04" fill="none" stroke="#1c1c1c" stroke-width="0.9" stroke-linejoin="round" stroke-linecap="round"/>
<line x1="159.19" y1="475.94" x2="160.39" y2="477.36" stroke="#1c1c1c" stroke-width="1.26"/>
<line x1="158.43" y1="486.19" x2="159.82" y2="485.04" stroke="#1c1c1c" stroke-width="1.26"/>
<line x1="200.4" y1="495.3" x2="209" y2="510" stroke="#1c1c1c" stroke-width="1.0" stroke-dasharray="2 1"/>
<polygon points="217.06,526.7 217.85,526.12 218.51,525.38 219.03,524.48 219.39,523.46 219.6,522.33 219.63,521.12 219.49,519.87 219.19,518.61 218.73,517.36 218.13,516.15 217.39,515.03 216.53,514 215.59,513.11 214.57,512.37 213.51,511.79 212.44,511.4 211.37,511.21 210.33,511.21 209.35,511.41 208.46,511.8 203.7,514.55 202.91,515.13 202.25,515.87 201.73,516.77 201.37,517.79 201.17,518.92 201.13,520.13 201.27,521.38 201.57,522.64 202.03,523.89 202.64,525.1 203.38,526.22 204.23,527.25 205.17,528.14 206.19,528.88 207.25,529.46 208.33,529.85 209.4,530.04 210.43,530.04 211.41,529.84 212.3,529.45" fill="#fff" stroke="#1c1c1c" stroke-width="2.0" stroke-linejoin="round" stroke-linecap="round"/>
<ellipse cx="208" cy="522" rx="8.6" ry="6.19" transform="rotate(60 208 522)" fill="none" stroke="#1c1c1c" stroke-width="1.6"/>
<ellipse cx="208" cy="522" rx="4.73" ry="3.41" transform="rotate(60 208 522)" fill="none" stroke="#1c1c1c" stroke-width="1.4"/>
<path d="M217.9,523.3 L225.75,527.6" fill="none" stroke="#1c1c1c" stroke-width="1.0" stroke-linecap="round" stroke-linejoin="round" stroke-dasharray="2 1.5"/>
<line x1="178.5" y1="508.4" x2="188" y2="522.4" stroke="#1c1c1c" stroke-width="1.0"/>
<polyline points="188.03,522.99 189.22,521.9 190.59,521.1 192.08,520.63 193.62,520.5 195.15,520.73 196.61,521.3 197.94,522.18 199.08,523.35 199.98,524.75 200.61,526.33 200.95,528.01 200.97,529.74 200.68,531.44 200.09,533.03 199.22,534.46 198.11,535.67 196.81,536.6 195.37,537.21 193.84,537.49 192.3,537.41 190.8,536.99 189.41,536.23 188.18,535.18 187.17,533.88" fill="none" stroke="#1c1c1c" stroke-width="1.8" stroke-linejoin="round" stroke-linecap="round"/>
<polyline points="189.37,524.49 190.27,523.67 191.3,523.08 192.41,522.72 193.57,522.63 194.71,522.8 195.81,523.22 196.8,523.89 197.66,524.76 198.34,525.81 198.81,526.99 199.06,528.26 199.08,529.56 198.86,530.83 198.42,532.03 197.77,533.1 196.94,534 195.96,534.7 194.88,535.16 193.73,535.36 192.57,535.31 191.45,534.99 190.41,534.43 189.49,533.64 188.73,532.66" fill="none" stroke="#1c1c1c" stroke-width="0.9" stroke-linejoin="round" stroke-linecap="round"/>
<line x1="188.03" y1="522.99" x2="189.37" y2="524.49" stroke="#1c1c1c" stroke-width="1.26"/>
<line x1="187.17" y1="533.88" x2="188.73" y2="532.66" stroke="#1c1c1c" stroke-width="1.26"/>
<polygon points="235.22,538.16 235.57,538.32 235.97,538.37 236.41,538.31 236.87,538.14 237.34,537.86 237.8,537.5 238.22,537.06 238.6,536.57 238.91,536.03 239.16,535.47 239.31,534.91 239.38,534.37 239.36,533.88 239.25,533.45 239.05,533.1 238.78,532.84 231.28,527.84 230.93,527.68 230.53,527.63 230.09,527.69 229.63,527.86 229.16,528.14 228.7,528.5 228.28,528.94 227.9,529.43 227.59,529.97 227.34,530.53 227.19,531.09 227.12,531.63 227.14,532.12 227.25,532.55 227.45,532.9 227.72,533.16" fill="#fff" stroke="#1c1c1c" stroke-width="1.3" stroke-linejoin="round" stroke-linecap="round"/>
<ellipse cx="229.5" cy="530.5" rx="3.2" ry="1.92" transform="rotate(123.69 229.5 530.5)" fill="none" stroke="#1c1c1c" stroke-width="1.3"/>
<line x1="232.75" y1="538" x2="232.75" y2="560" stroke="#1c1c1c" stroke-width="1.1"/>
<path d="M583,600 L590,596" fill="none" stroke="#1c1c1c" stroke-width="1.0" stroke-linecap="round" stroke-linejoin="round" stroke-dasharray="2 1.5"/>
<polygon points="604.4,598 604.98,597.56 605.46,596.95 605.81,596.21 606.03,595.34 606.12,594.37 606.07,593.33 605.88,592.23 605.55,591.11 605.11,590 604.55,588.91 603.89,587.88 603.14,586.94 602.34,586.1 601.48,585.39 600.6,584.82 599.72,584.41 598.86,584.17 598.04,584.1 597.28,584.21 596.6,584.5 590.1,588.25 589.51,588.69 589.04,589.3 588.69,590.04 588.46,590.91 588.38,591.88 588.43,592.92 588.62,594.02 588.94,595.14 589.39,596.25 589.95,597.34 590.61,598.37 591.35,599.31 592.16,600.15 593.01,600.86 593.89,601.43 594.77,601.84 595.63,602.08 596.46,602.15 597.22,602.04 597.9,601.75" fill="#fff" stroke="#1c1c1c" stroke-width="1.4" stroke-linejoin="round" stroke-linecap="round"/>
<ellipse cx="594" cy="595" rx="7.8" ry="4.68" transform="rotate(60 594 595)" fill="none" stroke="#1c1c1c" stroke-width="1.1199999999999999"/>
<ellipse cx="594" cy="595" rx="2.73" ry="1.64" transform="rotate(60 594 595)" fill="none" stroke="#1c1c1c" stroke-width="0.9799999999999999"/>
<line x1="600.8" y1="598.3" x2="621.5" y2="630" stroke="#1c1c1c" stroke-width="1.0"/>
<ellipse cx="613" cy="582" rx="5.7" ry="6.6" transform="rotate(-20 613 582)" fill="#fff" stroke="#1c1c1c" stroke-width="1.6"/>
<ellipse cx="612.2" cy="583.2" rx="2.5" ry="3.5" transform="rotate(-20 612.2 583.2)" fill="none" stroke="#1c1c1c" stroke-width="1.2"/>
<line x1="617" y1="587.4" x2="645" y2="615" stroke="#1c1c1c" stroke-width="1.0"/>
<ellipse cx="627.7" cy="573.8" rx="7.7" ry="9.2" transform="rotate(-20 627.7 573.8)" fill="#fff" stroke="#1c1c1c" stroke-width="1.6"/>
<ellipse cx="627.5" cy="574.2" rx="2.2" ry="3.4" transform="rotate(-20 627.5 574.2)" fill="#1c1c1c" stroke="#1c1c1c" stroke-width="0.8"/>
<line x1="634.5" y1="581.25" x2="670" y2="605" stroke="#1c1c1c" stroke-width="1.0"/>
<ellipse cx="597" cy="649" rx="5.5" ry="5.8" transform="rotate(0 597 649)" fill="none" stroke="#1c1c1c" stroke-width="1.7"/>
<ellipse cx="597" cy="650" rx="2.8" ry="2.6" transform="rotate(0 597 650)" fill="none" stroke="#1c1c1c" stroke-width="1.1"/>
<line x1="600" y1="656" x2="614" y2="674" stroke="#1c1c1c" stroke-width="1.1"/>
<polygon points="455.29,682.56 455.82,682.16 456.25,681.62 456.56,680.95 456.76,680.17 456.84,679.3 456.79,678.36 456.62,677.38 456.34,676.38 455.93,675.37 455.43,674.4 454.84,673.48 454.17,672.63 453.45,671.88 452.68,671.24 451.89,670.73 451.1,670.36 450.33,670.15 449.59,670.09 448.91,670.18 448.29,670.44 440.5,674.94 439.97,675.34 439.55,675.88 439.23,676.55 439.03,677.33 438.95,678.2 439,679.14 439.17,680.12 439.46,681.12 439.86,682.13 440.36,683.1 440.95,684.02 441.62,684.87 442.35,685.62 443.11,686.26 443.9,686.77 444.69,687.14 445.47,687.35 446.2,687.41 446.89,687.32 447.5,687.06" fill="#fff" stroke="#1c1c1c" stroke-width="1.4" stroke-linejoin="round" stroke-linecap="round"/>
<ellipse cx="444" cy="681" rx="7" ry="4.2" transform="rotate(60 444 681)" fill="none" stroke="#1c1c1c" stroke-width="1.1199999999999999"/>
<ellipse cx="444" cy="681" rx="2.45" ry="1.47" transform="rotate(60 444 681)" fill="none" stroke="#1c1c1c" stroke-width="0.9799999999999999"/>
<line x1="452.5" y1="685.4" x2="461" y2="725" stroke="#1c1c1c" stroke-width="1.0" stroke-dasharray="4 2"/>
<ellipse cx="432.5" cy="687.8" rx="6" ry="7.2" transform="rotate(-20 432.5 687.8)" fill="#fff" stroke="#1c1c1c" stroke-width="1.6"/>
<ellipse cx="432" cy="688.5" rx="2.3" ry="3.3" transform="rotate(-20 432 688.5)" fill="none" stroke="#1c1c1c" stroke-width="1.2"/>
<line x1="436" y1="695" x2="438.5" y2="734" stroke="#1c1c1c" stroke-width="1.0" stroke-dasharray="4 2"/>
<ellipse cx="418.4" cy="696" rx="7.9" ry="9.3" transform="rotate(-20 418.4 696)" fill="#fff" stroke="#1c1c1c" stroke-width="1.7"/>
<ellipse cx="418" cy="696.7" rx="2.6" ry="3.6" transform="rotate(-20 418 696.7)" fill="none" stroke="#1c1c1c" stroke-width="1.2"/>
<line x1="418" y1="707" x2="416" y2="749" stroke="#1c1c1c" stroke-width="1.1"/>
<path d="M572,500 L573.8,500 L584.5,540 L590.5,558.5 L594.5,561 L589.5,575.5 L581,564 L584,561.5 L580,540 Z" fill="#e2283c"/>
<path d="M420.5,594 L422.5,594 L431.5,615 L440,635 L442,642.5 L446,641.5 L444,657 L434.5,649 L436,646.5 L433,635 L426,615 Z" fill="#e2283c"/>
</svg></body></html>
